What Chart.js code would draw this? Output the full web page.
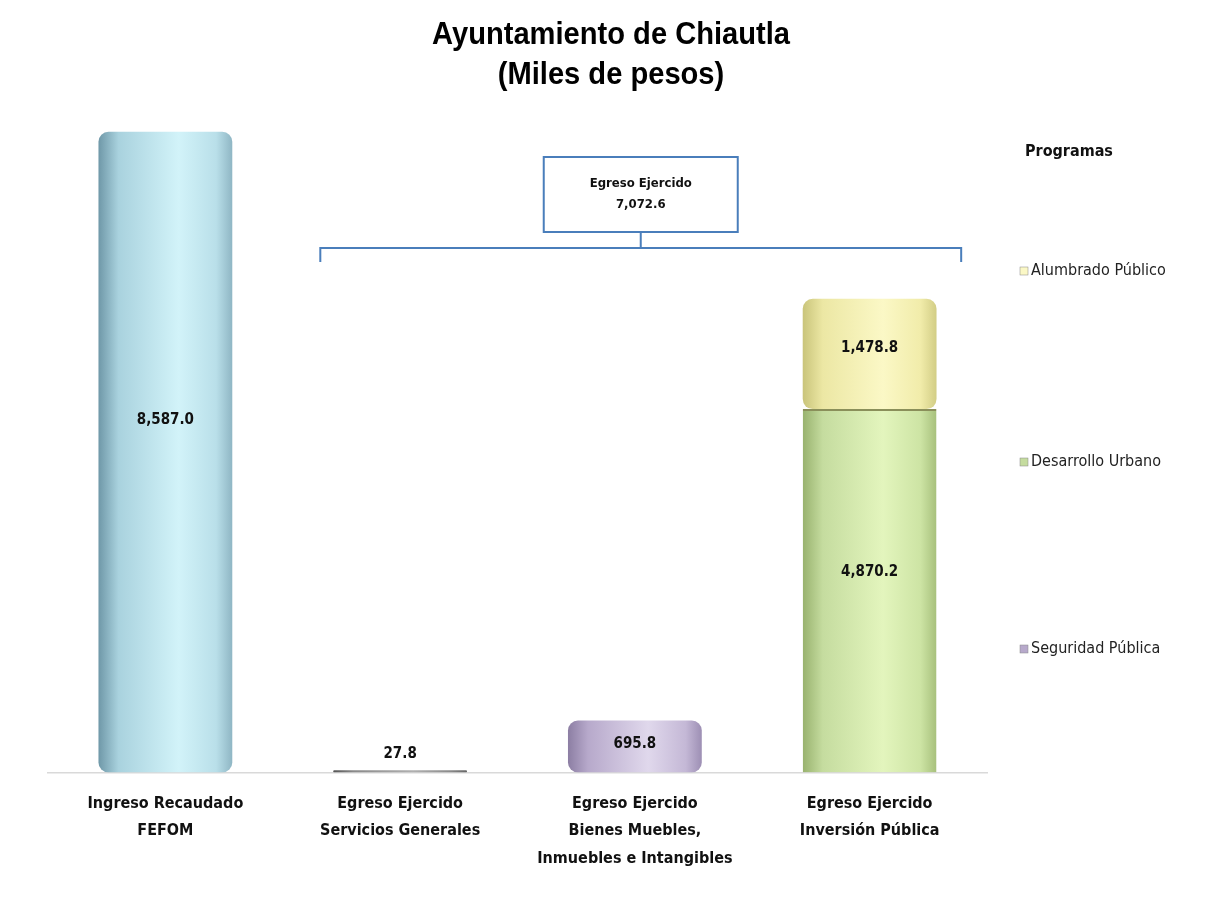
<!DOCTYPE html>
<html>
<head>
<meta charset="utf-8">
<script src="https://cdn.jsdelivr.net/npm/chart.js@4"></script>
<style>
  html, body { margin: 0; padding: 0; background: #fff; }
  #wrap { width: 1205px; height: 907px; position: relative; }
</style>
</head>
<body>
<div id="wrap"><canvas id="chart"></canvas></div>
<script>
const categories = [
    ['Ingreso Recaudado', 'FEFOM'],
    ['Egreso Ejercido', 'Servicios Generales'],
    ['Egreso Ejercido', 'Bienes Muebles,', 'Inmuebles e Intangibles'],
    ['Egreso Ejercido', 'Inversión Pública']
];
const ingresoRecaudado = [8587.0, null, null, null];
const egresoCapitulos = [null, 27.8, 695.8, null];
const desarrolloUrbano = [null, null, null, 4870.2];
const alumbradoPublico = [null, null, null, 1478.8];
const programas = ['Alumbrado Público', 'Desarrollo Urbano', 'Seguridad Pública'];
const titulo = ['Ayuntamiento de Chiautla', '(Miles de pesos)'];

const NARROW = "'Liberation Sans Narrow', 'DejaVu Sans Condensed', 'Liberation Sans', sans-serif";
const BAR_PCT = 0.57;

const PALETTE = {
    blue:   ['#6f98a8', '#a9d2de', '#d2f3f9', '#b9dfe9', '#8fb6c4'],
    grey:   ['#555555', '#8a8a8a', '#b0b0b0', '#8a8a8a', '#666666'],
    purple: ['#8c7ea3', '#b7a9cb', '#e0d8ec', '#c4b8d6', '#9d8fb4'],
    green:  ['#98b26e', '#c5dc9f', '#e3f5bd', '#cde4a4', '#a7c07c'],
    yellow: ['#c9c47a', '#ece7a4', '#fbf8c6', '#f1ecaa', '#d2cd85'],
};

function cylinder(stops) {
    return (ctx) => {
        const chart = ctx.chart;
        const xs = chart.scales.x;
        if (!xs || !chart.chartArea) return stops[2];
        const cx = xs.getPixelForValue(ctx.dataIndex);
        const w = xs.width / categories.length * BAR_PCT;
        const g = chart.ctx.createLinearGradient(cx - w / 2, 0, cx + w / 2, 0);
        g.addColorStop(0, stops[0]);
        g.addColorStop(0.15, stops[1]);
        g.addColorStop(0.6, stops[2]);
        g.addColorStop(0.88, stops[3]);
        g.addColorStop(1, stops[4]);
        return g;
    };
}

function fmt(v) {
    return v.toLocaleString('en-US', { minimumFractionDigits: 1, maximumFractionDigits: 1 });
}

// title is drawn by hand: the original sits right of the plot centre and uses a narrow face
const titlePlugin = {
    id: 'titlePlugin',
    afterDraw(chart) {
        const ctx = chart.ctx;
        ctx.save();
        ctx.font = "bold 31px 'Liberation Sans', Arial, sans-serif";
        ctx.fillStyle = '#000';
        ctx.textAlign = 'center';
        ctx.textBaseline = 'middle';
        // squeeze to the width of the original narrow type
        const k = Math.min(1, 358 / ctx.measureText(titulo[0]).width);
        ctx.translate(611, 0);
        ctx.scale(k, 1);
        ctx.fillText(titulo[0], 0, 35);
        ctx.fillText(titulo[1], 0, 75);
        ctx.restore();
    }
};

// value labels placed on the front face, like the original 3D chart
const valueLabels = {
    id: 'valueLabels',
    afterDatasetsDraw(chart) {
        const ctx = chart.ctx;
        ctx.save();
        ctx.font = 'bold 15px ' + NARROW;
        ctx.fillStyle = '#111';
        ctx.textAlign = 'center';
        ctx.textBaseline = 'middle';
        chart.data.datasets.forEach((ds, i) => {
            const meta = chart.getDatasetMeta(i);
            meta.data.forEach((bar, j) => {
                const v = ds.data[j];
                if (v == null) return;
                const h = bar.base - bar.y;
                const y = h < 25 ? bar.y - 16 : bar.y + h * 0.45;
                ctx.fillText(fmt(v), bar.x, y);
            });
        });
        ctx.restore();
    }
};

// bracket with the total of the expenses
const bracket = {
    id: 'bracket',
    afterDraw(chart) {
        const xs = chart.scales.x;
        const ctx = chart.ctx;
        const step = xs.width / categories.length;
        const left = xs.getPixelForValue(1) - step * 0.34;
        const right = xs.getPixelForValue(3) + step * 0.39;
        const mid = (left + right) / 2;
        const yLine = 248;
        const total = [egresoCapitulos, desarrolloUrbano, alumbradoPublico]
            .flat().reduce((a, b) => a + (b || 0), 0);

        ctx.save();
        ctx.strokeStyle = '#4a7ebb';
        ctx.lineWidth = 2;
        ctx.beginPath();
        ctx.moveTo(left, yLine + 14);
        ctx.lineTo(left, yLine);
        ctx.lineTo(right, yLine);
        ctx.lineTo(right, yLine + 14);
        ctx.moveTo(mid, yLine);
        ctx.lineTo(mid, yLine - 16);
        ctx.stroke();

        const bw = 194, bh = 75;
        ctx.fillStyle = '#fff';
        ctx.fillRect(mid - bw / 2, yLine - 16 - bh, bw, bh);
        ctx.strokeRect(mid - bw / 2, yLine - 16 - bh, bw, bh);

        ctx.fillStyle = '#111';
        ctx.font = 'bold 13px ' + NARROW;
        ctx.textAlign = 'center';
        ctx.textBaseline = 'middle';
        ctx.fillText('Egreso Ejercido', mid, yLine - 16 - bh + 27);
        ctx.fillText(fmt(total), mid, yLine - 16 - bh + 48);
        ctx.restore();
    }
};

// legend of the programs on the right side
const programLegend = {
    id: 'programLegend',
    afterDraw(chart) {
        const ctx = chart.ctx;
        const x = chart.chartArea.right + 33;
        const colors = [PALETTE.yellow[2], PALETTE.green[1], PALETTE.purple[1]];
        const ys = [271, 462, 649];
        ctx.save();
        ctx.fillStyle = '#111';
        ctx.font = 'bold 16px ' + NARROW;
        ctx.textBaseline = 'middle';
        ctx.fillText('Programas', x + 5, 152);
        ctx.font = '16px ' + NARROW;
        programas.forEach((name, i) => {
            ctx.fillStyle = colors[i];
            ctx.fillRect(x, ys[i] - 4, 8, 8);
            ctx.strokeStyle = '#888';
            ctx.lineWidth = 0.5;
            ctx.strokeRect(x, ys[i] - 4, 8, 8);
            ctx.fillStyle = '#222';
            ctx.fillText(name, x + 11, ys[i]);
        });
        ctx.restore();
    }
};

const barBase = {
    borderWidth: 0,
    borderRadius: 10,
    borderSkipped: false,
    barPercentage: BAR_PCT,
    categoryPercentage: 1.0,
};

new Chart(document.getElementById('chart'), {
    type: 'bar',
    data: {
        labels: categories,
        datasets: [
            { ...barBase, label: 'Ingreso Recaudado', data: ingresoRecaudado,
              backgroundColor: cylinder(PALETTE.blue) },
            { ...barBase, label: 'Egreso Ejercido', data: egresoCapitulos,
              borderRadius: (c) => c.dataIndex === 1 ? 1 : 10,
              backgroundColor: (c) => cylinder(c.dataIndex === 1 ? PALETTE.grey : PALETTE.purple)(c) },
            { ...barBase, label: programas[1], data: desarrolloUrbano,
              borderWidth: { top: 2 }, borderColor: '#8a8f5a',
              backgroundColor: cylinder(PALETTE.green) },
            { ...barBase, label: programas[0], data: alumbradoPublico,
              backgroundColor: cylinder(PALETTE.yellow) },
        ]
    },
    options: {
        responsive: true,
        maintainAspectRatio: false,
        animation: false,
        layout: {
            padding: { left: 48, right: 218, top: 101, bottom: 17 }
        },
        plugins: {
            legend: { display: false },
            tooltip: { enabled: false },
            title: { display: false }
        },
        scales: {
            x: {
                stacked: true,
                grid: { display: false, drawTicks: false },
                border: { display: true, color: '#d9d9d9', width: 1.5 },
                ticks: {
                    color: '#111',
                    padding: 18,
                    maxRotation: 0,
                    autoSkip: false,
                    font: { family: NARROW, size: 16, weight: 'bold', lineHeight: 1.7 }
                }
            },
            y: {
                stacked: true,
                display: false,
                min: 0,
                max: 9000
            }
        }
    },
    plugins: [valueLabels, bracket, programLegend, titlePlugin]
});
</script>
</body>
</html>
